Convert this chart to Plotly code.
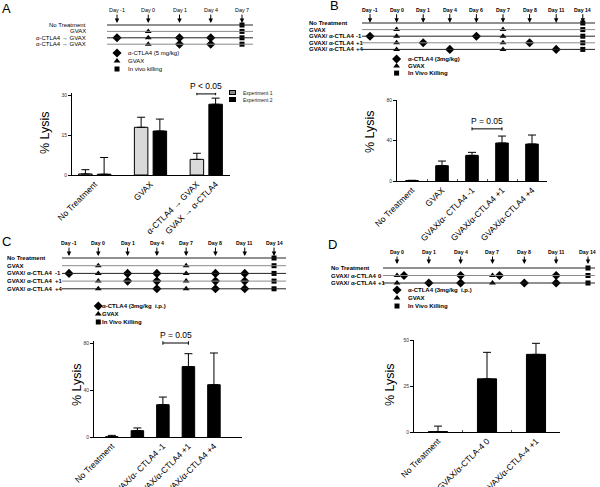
import plotly.graph_objects as go

W, H = 600, 487
def px(x): return x / W
def py(y): return 1 - y / H

FONT = "Liberation Sans, Arial, sans-serif"

# ---------------- DATA ----------------
# Panel A schedule
A_days = ["Day -1", "Day 0", "Day 1", "Day 4", "Day 7"]
A_rows = ["No Treatment", "GVAX", "α-CTLA4 → GVAX", "α-CTLA4 → GVAX"]
A_ctla = [[], [], ["Day -1", "Day 1", "Day 4"], ["Day 1", "Day 4"]]
A_gvax = [[], ["Day 0"], ["Day 0"], ["Day 0"]]
A_kill = [["Day 7"], ["Day 7"], ["Day 7"], ["Day 7"]]
A_legend = ["α-CTLA4 (5 mg/kg)", "GVAX", "In vivo killing"]
# Panel A bars
A_groups = ["No Treatment", "GVAX", "α-CTLA4 → GVAX / GVAX → α-CTLA4"]
A_ticklabels = ["No Treatment", "GVAX", "α-CTLA4 → GVAX", "GVAX → α-CTLA4"]
A_exp1 = [0.4, 18.0, 5.9]
A_exp1_err = [1.6, 3.8, 2.3]
A_exp2 = [0.3, 16.6, 26.7]
A_exp2_err = [6.3, 4.5, 2.3]
A_yticks = [0, 15, 30]

# Panel B schedule
B_days = ["Day -1", "Day 0", "Day 1", "Day 4", "Day 6", "Day 7", "Day 8", "Day 11", "Day 14"]
B_rows = ["No Treatment", "GVAX", "GVAX/ α-CTLA4", "GVAX/ α-CTLA4", "GVAX/ α-CTLA4"]
B_suffix = ["", "", "-1", "+1", "+4"]
B_ctla = [[], [], ["Day -1", "Day 6"], ["Day 1", "Day 8"], ["Day 4", "Day 11"]]
B_gvax = [[], ["Day 0", "Day 7"], ["Day 0", "Day 7"], ["Day 0", "Day 7"], ["Day 0", "Day 7"]]
B_kill = [["Day 14"]] * 5
B_legend = ["α-CTLA4 (3mg/kg)", "GVAX", "In Vivo Killing"]
# Panel B bars
B_cats = ["No Treatment", "GVAX", "GVAX/α- CTLA4 -1", "GVAX/α-CTLA4 +1", "GVAX/α-CTLA4 +4"]
B_vals = [0.4, 15.1, 25.3, 37.5, 36.5]
B_err = [0.3, 4.6, 3.0, 6.9, 8.9]
B_yticks = [0, 40, 80]

# Panel C schedule
C_days = ["Day -1", "Day 0", "Day 1", "Day 4", "Day 7", "Day 8", "Day 11", "Day 14"]
C_rows = ["No Treatment", "GVAX", "GVAX/ α-CTLA4", "GVAX/ α-CTLA4", "GVAX/ α-CTLA4"]
C_suffix = ["", "", "-1", "+1", "+4"]
C_ctla = [[], [], ["Day -1", "Day 1", "Day 4", "Day 8", "Day 11"],
          ["Day 1", "Day 4", "Day 8", "Day 11"], ["Day 4", "Day 8", "Day 11"]]
C_gvax = [[], ["Day 0", "Day 7"], ["Day 0", "Day 7"], ["Day 0", "Day 7"], ["Day 0", "Day 7"]]
C_kill = [["Day 14"]] * 5
C_legend = ["α-CTLA4 (3mg/kg  i.p.)", "GVAX", "In Vivo Killing"]
# Panel C bars
C_cats = ["No Treatment", "GVAX", "GVAX/α- CTLA4 -1", "GVAX/α-CTLA4 +1", "GVAX/α-CTLA4 +4"]
C_ticklabels = ["No Treatment", "", "GVAX/α- CTLA4 -1", "GVAX/α-CTLA4 +1", "GVAX/α-CTLA4 +4"]
C_vals = [0.2, 5.4, 27.5, 59.9, 44.5]
C_err = [1.2, 2.3, 6.5, 11.0, 27.0]
C_yticks = [0, 40, 80]

# Panel D schedule
D_days = ["Day 0", "Day 1", "Day 4", "Day 7", "Day 8", "Day 11", "Day 14"]
D_rows = ["No Treatment", "GVAX/ α-CTLA4", "GVAX/ α-CTLA4"]
D_suffix = ["", "0", "+1"]
D_ctla = [[], ["Day 0", "Day 4", "Day 7", "Day 11"], ["Day 1", "Day 4", "Day 8", "Day 11"]]
D_gvax = [[], ["Day 0", "Day 7"], ["Day 0", "Day 7"]]
D_kill = [["Day 14"]] * 3
D_legend = ["α-CTLA4 (3mg/kg  i.p.)", "GVAX", "In Vivo Killing"]
# Panel D bars
D_cats = ["No Treatment", "GVAX/α-CTLA-4 0", "GVAX/α-CTLA-4 +1"]
D_vals = [0.2, 28.9, 42.2]
D_err = [3.0, 14.4, 6.0]
D_yticks = [0, 25, 50]

# ---------------- FIGURE ----------------
fig = go.Figure()
layout = dict(template="none", width=W, height=H, margin=dict(l=0, r=0, t=0, b=0, pad=0),
              autosize=False, paper_bgcolor="white", plot_bgcolor="rgba(0,0,0,0)", showlegend=False,
              barmode="overlay", font=dict(family=FONT, color="black"))
annotations = []
shapes = []

axis_id = [0]
def new_axes(xdom, ydom, xr, yr):
    axis_id[0] += 1
    i = axis_id[0]
    xn = "xaxis" if i == 1 else f"xaxis{i}"
    yn = "yaxis" if i == 1 else f"yaxis{i}"
    xref = "x" if i == 1 else f"x{i}"
    yref = "y" if i == 1 else f"y{i}"
    layout[xn] = dict(domain=xdom, range=xr, anchor=yref, showgrid=False, zeroline=False,
                      showticklabels=False, showline=False, ticks="", fixedrange=True,
                      automargin=False)
    layout[yn] = dict(domain=ydom, range=yr, anchor=xref, showgrid=False, zeroline=False,
                      showticklabels=False, showline=False, ticks="", fixedrange=True,
                      automargin=False)
    return xref, yref, xn, yn

SYMS = [("diamond", 7), ("triangle-up", 6), ("square", 5)]

def schedule(days, rows, suffix, ctla, gvax, kill, legend, cfg):
    s0, sp = cfg["slot0"], cfg["slotsp"]
    p0, rs = cfg["row0"], cfg["rowsp"]
    xl, xr_ = cfg["xline"]
    yt, yb = cfg["ybox"]
    xrange = [(xl - s0) / sp, (xr_ - s0) / sp]
    yrange = [(yb - p0) / rs, (yt - p0) / rs]
    xref, yref, _, _ = new_axes([px(xl), px(xr_)], [py(yb), py(yt)], xrange, yrange)
    bold = cfg["bold"]
    fs = cfg["fs"]
    dfs = cfg["dfs"]
    def t(s):
        return f"<b>{s}</b>" if bold else s
    # row lines
    for r in range(len(rows)):
        shapes.append(dict(type="line", xref=f"{xref} domain", yref=yref, x0=0, x1=1, y0=r, y1=r,
                           line=dict(color="#222" if r % 2 == 0 else "#8a8a8a", width=1)))
    # day arrows
    for d in days:
        annotations.append(dict(x=days.index(d), y=cfg["tip"], xref=xref, yref=yref, text=t(d),
                                showarrow=True, ax=0, ay=cfg["ay"], arrowhead=2, arrowsize=0.9,
                                arrowwidth=1, arrowcolor="black",
                                font=dict(size=dfs, family=FONT, color="black")))
    # row labels
    for r, lab in enumerate(rows):
        annotations.append(dict(x=px(cfg["labx"]), y=r, xref="paper", yref=yref, text=t(lab),
                                showarrow=False, xanchor=cfg["labanchor"], yanchor="middle",
                                font=dict(size=fs, family=FONT, color="black")))
        if suffix and suffix[r]:
            annotations.append(dict(x=px(cfg["sufx"]), y=r, xref="paper", yref=yref, text=t(suffix[r]),
                                    showarrow=False, xanchor="left", yanchor="middle",
                                    font=dict(size=fs, family=FONT, color="black")))
    # markers
    def add(lst, symbol, size, shift_if_gvax=False):
        xs, ys = [], []
        for r, dl in enumerate(lst):
            for d in dl:
                x = days.index(d)
                if shift_if_gvax and d in gvax[r]:
                    x += cfg.get("coshift", 0)
                xs.append(x)
                ys.append(r)
        fig.add_trace(go.Scatter(x=xs, y=ys, xaxis=xref, yaxis=yref, mode="markers",
                                 marker=dict(symbol=symbol, size=size, color="black", line=dict(width=0)),
                                 hoverinfo="skip", cliponaxis=False))
    add(ctla, SYMS[0][0], SYMS[0][1], shift_if_gvax=True)
    add(gvax, SYMS[1][0], SYMS[1][1])
    add(kill, SYMS[2][0], SYMS[2][1])
    # legend
    ly = [len(rows) - 1 + cfg["lgap"] + k * cfg["lsp"] for k in range(3)]
    for k, (sym, sz) in enumerate(SYMS):
        fig.add_trace(go.Scatter(x=[cfg["legslot"]], y=[ly[k]], xaxis=xref, yaxis=yref, mode="markers",
                                 marker=dict(symbol=sym, size=sz, color="black", line=dict(width=0)),
                                 hoverinfo="skip", cliponaxis=False))
        annotations.append(dict(x=px(cfg["legtx"]), y=ly[k], xref="paper", yref=yref, text=t(legend[k]),
                                showarrow=False, xanchor="left", yanchor="middle",
                                font=dict(size=fs, family=FONT, color="black")))


def bar_axes(xdom_px, ypx0, ypx_top, vtop, xr, yticks, tickvals, ticktext, boundary_ticks=False):
    xref, yref, xn, yn = new_axes([px(xdom_px[0]), px(xdom_px[1])], [py(ypx0), py(ypx_top)], xr, [0, vtop])
    layout[xn].update(showline=True, linecolor="black", linewidth=1, showticklabels=True,
                      tickmode="array", tickvals=tickvals, ticktext=ticktext, tickangle=-45,
                      tickfont=dict(size=8.5, family=FONT, color="black"), ticks="")
    if boundary_ticks:
        layout[xn].update(ticks="inside", tickson="boundaries", ticklen=2, tickwidth=1,
                          tickcolor="#555")
    layout[yn].update(showline=True, linecolor="black", linewidth=1, showticklabels=True,
                      tickmode="array", tickvals=yticks, ticks="outside", ticklen=3, tickwidth=1,
                      tickcolor="black", tickfont=dict(size=5, family=FONT, color="#333"))
    return xref, yref


def bracket(xref, yref, x0, x1, y, cap, text):
    shapes.append(dict(type="line", xref=xref, yref=yref, x0=x0, x1=x1, y0=y, y1=y,
                       line=dict(color="black", width=1)))
    for xx in (x0, x1):
        shapes.append(dict(type="line", xref=xref, yref=yref, x0=xx, x1=xx, y0=y - cap, y1=y + cap,
                           line=dict(color="black", width=1)))
    annotations.append(dict(x=(x0 + x1) / 2, y=y, xref=xref, yref=yref, text=text, showarrow=False,
                            xanchor="center", yanchor="bottom", yshift=1,
                            font=dict(size=8.5, family=FONT, color="black")))


def ytitle(x, y):
    annotations.append(dict(x=px(x), y=py(y), xref="paper", yref="paper", text="% Lysis", textangle=-90,
                            showarrow=False, xanchor="center", yanchor="middle",
                            font=dict(size=12.5, family=FONT, color="black")))


def letter(ch, x, y):
    annotations.append(dict(x=px(x), y=py(y), xref="paper", yref="paper", text=ch, showarrow=False,
                            xanchor="center", yanchor="middle",
                            font=dict(size=13, family=FONT, color="black")))

ERR = dict(type="data", symmetric=False, color="black", thickness=1, width=4)

# ---------- Panel A ----------
schedule(A_days, A_rows, None, A_ctla, A_gvax, A_kill, A_legend,
         dict(slot0=117, slotsp=31.25, row0=25, rowsp=6.4, xline=(107, 253), ybox=(14, 74),
              tip=-0.3, ay=-13, labx=88, labanchor="right", sufx=0, legslot=0, legtx=126,
              lgap=1.375, lsp=1.25, bold=False, fs=6, dfs=5.4))
a_off = 0.168
a_w = 0.242
xa, ya = bar_axes((72, 230), 175, 175 - 31 * 2.65, 31, [-0.408, 2.426], A_yticks,
                  [0, 1, 2 - a_off, 2 + a_off], A_ticklabels)
gx = list(range(len(A_groups)))
fig.add_trace(go.Bar(x=gx, y=A_exp1, xaxis=xa, yaxis=ya, width=a_w, offset=-a_off - a_w / 2,
                     marker=dict(color="#d9d9d9", line=dict(color="black", width=1)),
                     error_y=dict(ERR, array=A_exp1_err, arrayminus=[0] * 3), name="Experiment 1"))
fig.add_trace(go.Bar(x=gx, y=A_exp2, xaxis=xa, yaxis=ya, width=a_w, offset=a_off - a_w / 2,
                     marker=dict(color="black", line=dict(color="black", width=1)),
                     error_y=dict(ERR, array=A_exp2_err, arrayminus=[0] * 3), name="Experiment 2"))
bracket(xa, ya, 2 - a_off, 2 + a_off, 30.6, 0.5, "P < 0.05")
ytitle(45, 133)
letter("A", 6, 8)
for k, (col, lab) in enumerate([("#8c8c8c", "Experiment 1"), ("black", "Experiment 2")]):
    annotations.append(dict(x=px(232.5), y=py(92.5 + 7 * k), xref="paper", yref="paper", text="",
                            showarrow=False, width=5, height=3, bgcolor=col, bordercolor="black",
                            borderwidth=1, borderpad=0, xanchor="center", yanchor="middle"))
    annotations.append(dict(x=px(241), y=py(92.5 + 7 * k), xref="paper", yref="paper", text=lab,
                            showarrow=False, xanchor="left", yanchor="middle",
                            font=dict(size=5, family=FONT, color="#222")))

# ---------- Panel B ----------
schedule(B_days, B_rows, B_suffix, B_ctla, B_gvax, B_kill, B_legend,
         dict(slot0=370, slotsp=26.6, row0=23, rowsp=6.6, xline=(362, 595), ybox=(8, 80),
              tip=-0.05, ay=-13, labx=307, labanchor="left", sufx=354, legslot=1, legtx=406,
              lgap=1.45, lsp=1.07, bold=True, fs=6, dfs=5.2))
xb, yb = bar_axes((397, 547), 181, 100, 80, [-0.5, 4.5], B_yticks, B_cats, B_cats, boundary_ticks=True)
fig.add_trace(go.Bar(x=B_cats, y=B_vals, xaxis=xb, yaxis=yb, width=0.42,
                     marker=dict(color="black", line=dict(color="black", width=1)),
                     error_y=dict(ERR, array=B_err, arrayminus=[0] * 5)))
bracket(xb, yb, 2, 3, 51.5, 1.5, "P = 0.05")
ytitle(370, 132)
letter("B", 334, 6)

# ---------- Panel C ----------
schedule(C_days, C_rows, C_suffix, C_ctla, C_gvax, C_kill, C_legend,
         dict(slot0=69, slotsp=29.29, row0=258, rowsp=7.7, xline=(62, 286), ybox=(240, 328),
              tip=-0.25, ay=-13, labx=5, labanchor="left", sufx=53, legslot=1, legtx=100,
              lgap=2.23, lsp=1.04, bold=True, fs=6, dfs=5.2))
xc, yc = bar_axes((94, 242), 437, 437 - 82 * 1.175, 82, [-0.7, 5.1], C_yticks, C_cats, C_ticklabels)
fig.add_trace(go.Bar(x=C_cats, y=C_vals, xaxis=xc, yaxis=yc, width=0.49,
                     marker=dict(color="black", line=dict(color="black", width=1)),
                     error_y=dict(ERR, array=C_err, arrayminus=[0] * 5)))
bracket(xc, yc, 2, 3, 80, 1.5, "P = 0.05")
ytitle(77, 385)
letter("C", 6, 242)

# ---------- Panel D ----------
schedule(D_days, D_rows, D_suffix, D_ctla, D_gvax, D_kill, D_legend,
         dict(slot0=397, slotsp=31.83, row0=268, rowsp=7.5, xline=(383, 595), ybox=(250, 312),
              tip=-0.53, ay=-12, labx=329, labanchor="left", sufx=376, legslot=0, legtx=406,
              lgap=0.93, lsp=1.07, bold=True, fs=6, dfs=5.2, coshift=0.22))
xd, yd = bar_axes((414, 560), 432, 340, 50, [-0.49, 2.49], D_yticks, D_cats, D_cats, boundary_ticks=True)
fig.add_trace(go.Bar(x=D_cats, y=D_vals, xaxis=xd, yaxis=yd, width=0.39,
                     marker=dict(color="black", line=dict(color="black", width=1)),
                     error_y=dict(ERR, array=D_err, arrayminus=[0] * 3)))
ytitle(390, 385)
letter("D", 332, 244)

layout["annotations"] = annotations
layout["shapes"] = shapes
fig.update_layout(**layout)
fig.write_html("out.html", config={"displayModeBar": False, "staticPlot": True},
               post_script="document.body.style.margin='0';document.body.style.overflow='hidden';")
